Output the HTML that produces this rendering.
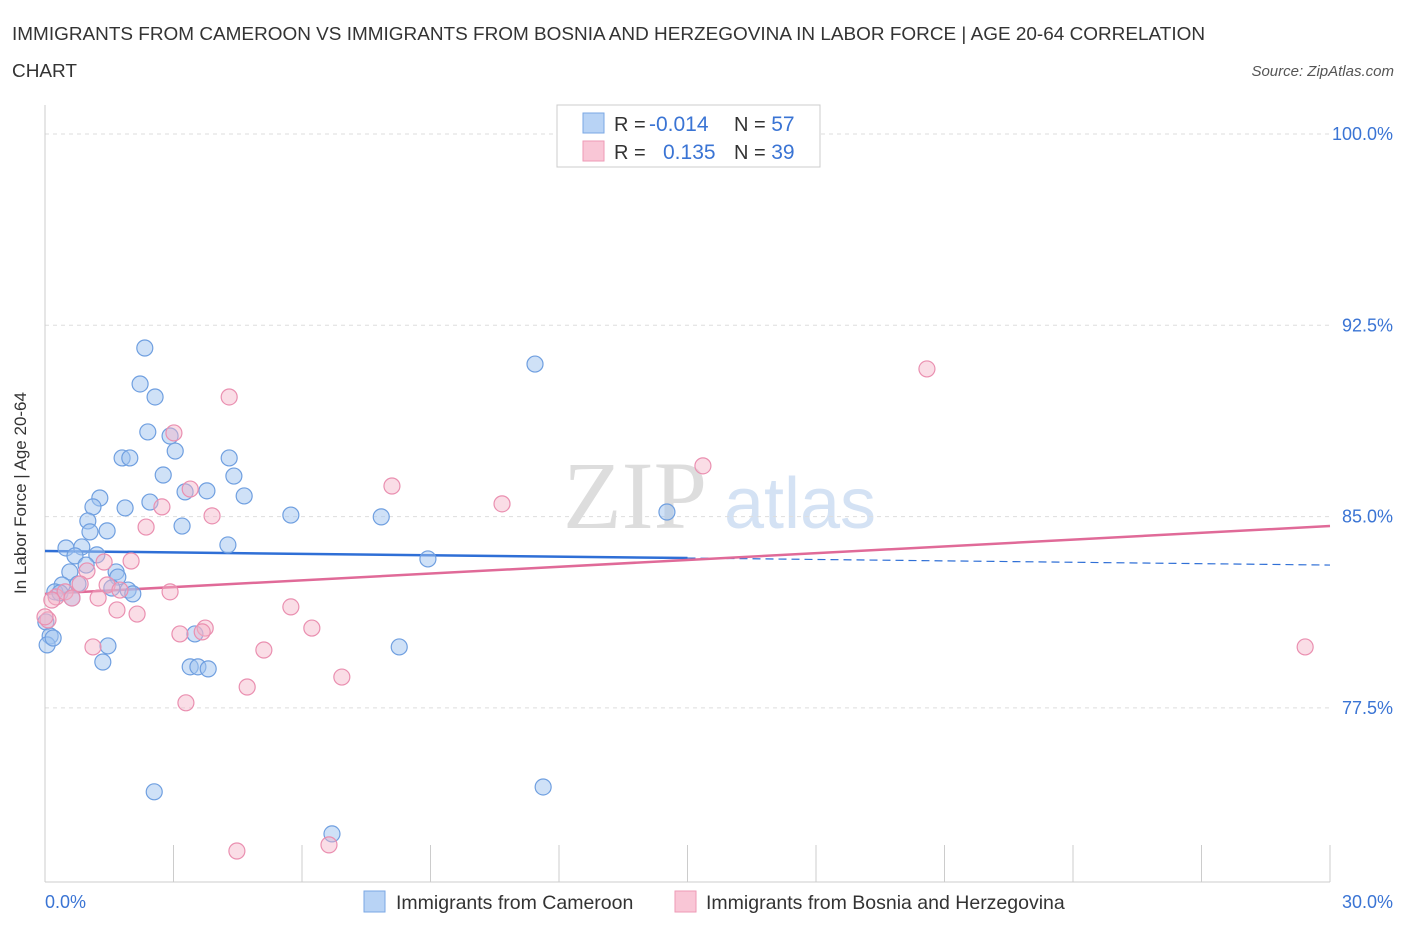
<!DOCTYPE html>
<html><head><meta charset="utf-8"><style>
body{margin:0;background:#fff;font-family:"Liberation Sans",sans-serif;}
svg{display:block}
</style></head><body>
<svg id="chart" width="1406" height="930">
<text x="12" y="40" font-size="18" fill="#333" textLength="1193" lengthAdjust="spacingAndGlyphs">IMMIGRANTS FROM CAMEROON VS IMMIGRANTS FROM BOSNIA AND HERZEGOVINA IN LABOR FORCE | AGE 20-64 CORRELATION</text>
<text x="12" y="77" font-size="18" fill="#333" textLength="65" lengthAdjust="spacingAndGlyphs">CHART</text>
<text x="1394" y="76" font-size="15" fill="#555" font-style="italic" text-anchor="end">Source: ZipAtlas.com</text>
<text x="635" y="528" font-size="96" fill="#ddd" font-family="Liberation Serif,serif" text-anchor="middle">ZIP</text>
<text x="800" y="528" font-size="72" fill="#d4e2f4" text-anchor="middle">atlas</text>
<g id="grid"></g><g id="axes"></g><g id="lines"></g><g id="pts"></g>
<text x="26" y="493" font-size="17" fill="#333" text-anchor="middle" transform="rotate(-90 26 493)">In Labor Force | Age 20-64</text>
<g>
<rect x="557" y="105" width="263" height="62" fill="#fff" stroke="#ccc"/>
<rect x="583" y="113" width="21" height="20" fill="#b8d3f5" stroke="#7aa7e4"/>
<rect x="583" y="141" width="21" height="20" fill="#f9c6d6" stroke="#ee9ab6"/>
<text x="614" y="131" font-size="20" fill="#333">R = <tspan fill="#3a74d4" x="649" font-size="21">-0.014</tspan></text>
<text x="734" y="131" font-size="20" fill="#333">N = <tspan fill="#3a74d4" font-size="21">57</tspan></text>
<text x="614" y="159" font-size="20" fill="#333">R = <tspan fill="#3a74d4" x="663" font-size="21">0.135</tspan></text>
<text x="734" y="159" font-size="20" fill="#333">N = <tspan fill="#3a74d4" font-size="21">39</tspan></text>
</g>
<g>
<rect x="364" y="891" width="21" height="21" fill="#b8d3f5" stroke="#7aa7e4"/>
<text x="396" y="909" font-size="19.5" fill="#333">Immigrants from Cameroon</text></g>
<g>
<rect x="675" y="891" width="21" height="21" fill="#f9c6d6" stroke="#ee9ab6"/>
<text x="706" y="909" font-size="19.5" fill="#333">Immigrants from Bosnia and Herzegovina</text></g>
</svg>
<script>
const yTicks=[100,92.5,85,77.5];
const xTickLabels=["0.0%","30.0%"];
const blueX=[2.33,2.22,2.57,2.40,2.92,3.04,1.80,1.98,2.76,1.28,3.27,3.78,4.65,2.45,1.12,1.87,1.00,1.45,1.05,3.20,5.74,7.85,4.30,4.41,0.49,0.86,1.21,0.70,0.96,0.58,1.66,1.70,0.40,0.77,1.56,1.94,2.05,0.23,0.35,0.63,0.02,0.12,0.05,0.19,1.47,1.35,3.39,3.57,3.81,3.50,4.27,8.94,8.27,11.44,14.52,2.55,11.63,6.70];
const blueY=[91.61,90.2,89.69,88.32,88.16,87.57,87.30,87.30,86.63,85.73,85.97,86.01,85.81,85.57,85.38,85.34,84.83,84.44,84.40,84.63,85.06,84.99,87.30,86.59,83.77,83.81,83.50,83.46,83.10,82.83,82.83,82.63,82.32,82.36,82.20,82.12,81.97,82.05,82.01,81.81,80.87,80.32,79.97,80.24,79.93,79.30,79.11,79.11,79.03,80.40,83.89,83.34,79.89,90.98,85.18,74.21,74.40,72.56];
const pinkX=[4.30,3.01,15.36,8.10,3.39,2.73,3.90,10.67,2.36,20.59,2.01,1.38,0.98,0.82,2.92,0.26,1.68,2.15,5.74,0.07,3.15,3.74,3.67,6.23,1.12,5.11,6.93,4.72,3.29,4.48,6.63,29.42,0.47,1.45,1.75,0.16,1.24,0.63,0.0];
const pinkY=[89.69,88.28,86.99,86.20,86.08,85.38,85.03,85.50,84.59,90.79,83.26,83.22,82.87,82.36,82.05,81.85,81.34,81.18,81.46,80.95,80.40,80.63,80.48,80.63,79.89,79.77,78.71,78.32,77.70,71.89,72.13,79.89,82.05,82.32,82.12,81.73,81.81,81.81,81.07];
const blueTrend=[83.65,83.10];
const pinkTrend=[81.97,84.63];
const NS="http://www.w3.org/2000/svg";
const X=v=>45+v/30*1285;
const Y=v=>134+(100-v)*25.507;
function mk(t,p,a){const e=document.createElementNS(NS,t);for(const k in a)e.setAttribute(k,a[k]);document.getElementById(p).appendChild(e);return e;}
yTicks.forEach((t,i)=>{
 const g=mk('line','grid',{x1:45,x2:1330,y1:Y(t),y2:Y(t),stroke:'#ddd','stroke-dasharray':'4,4'});
 
 
 const l=mk('text','grid',{x:1393,y:Y(t)+6,'font-size':18,fill:'#3a74d4','text-anchor':'end'});
 l.textContent=t.toFixed(1)+'%';
 
 
});
const ax=mk('line','axes',{x1:45,x2:1330,y1:882,y2:882,stroke:'#ccc'});


const ay=mk('line','axes',{x1:45,x2:45,y1:105,y2:882,stroke:'#ccc'});


for(let i=0;i<=10;i++){const t=mk('line','axes',{x1:X(i*3),x2:X(i*3),y1:845,y2:882,stroke:'#ccc'});
 
 }
[[0,'start',45],[1,'end',1393]].forEach(([i,a,x])=>{const t=mk('text','axes',{x:x,y:908,'font-size':18,fill:'#3a74d4','text-anchor':a});t.textContent=xTickLabels[i];
 
 });
const bSolidEnd=15;
const bl=mk('line','lines',{x1:X(0),y1:Y(blueTrend[0]),x2:X(bSolidEnd),y2:Y(blueTrend[0]+(blueTrend[1]-blueTrend[0])*bSolidEnd/30),stroke:'#2f6fd6','stroke-width':2.5});


const bd=mk('line','lines',{x1:X(bSolidEnd),y1:Y(blueTrend[0]+(blueTrend[1]-blueTrend[0])*bSolidEnd/30),x2:X(30),y2:Y(blueTrend[1]),stroke:'#2f6fd6','stroke-width':1.2,'stroke-dasharray':'8,5'});


const pl=mk('line','lines',{x1:X(0),y1:Y(pinkTrend[0]),x2:X(30),y2:Y(pinkTrend[1]),stroke:'#e06a98','stroke-width':2.5});


blueX.forEach((v,i)=>{const c=mk('circle','pts',{cx:X(v),cy:Y(blueY[i]),r:8,fill:'rgba(160,196,240,0.5)',stroke:'#6f9fe0','stroke-width':1.2});
 
 });
pinkX.forEach((v,i)=>{const c=mk('circle','pts',{cx:X(v),cy:Y(pinkY[i]),r:8,fill:'rgba(245,180,200,0.45)',stroke:'#ea8fb0','stroke-width':1.2});
 
 });
</script>
</body></html>
